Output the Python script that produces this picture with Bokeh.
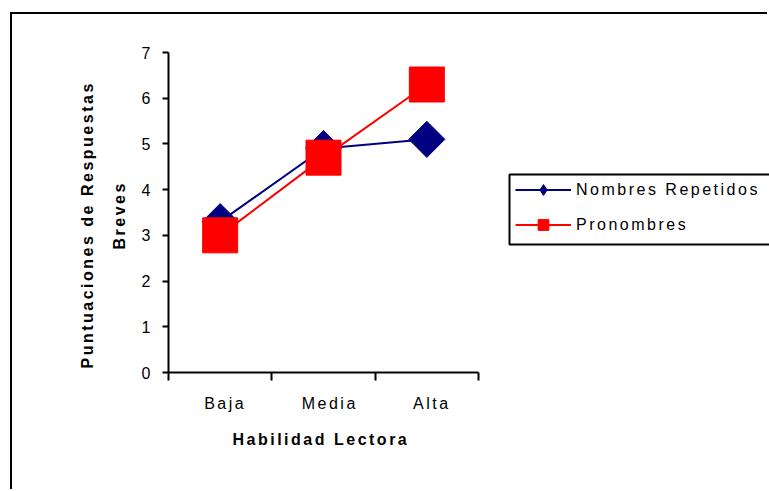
import math
from bokeh.plotting import figure
from bokeh.models import Range1d, FixedTicker, Legend, LegendItem, Title, BoxAnnotation
from bokeh.embed import file_html
from bokeh.resources import INLINE

# ---- data ----
categories = ["Baja", "Media", "Alta"]
nombres_repetidos = [3.3, 4.9, 5.1]
pronombres = [3.0, 4.7, 6.3]
y_ticks = [0, 1, 2, 3, 4, 5, 6, 7]
series_names = ["Nombres Repetidos", "Pronombres"]
x_title = "Habilidad Lectora"
y_title_lines = ["Puntuaciones de Respuestas", "Breves"]

FONT = "Liberation Sans"
FS = "16px"

W, H = 757, 477
LEFT, TOP, AXIS_W, AXIS_H = 156, 38, 310, 320
n = len(categories)
y_max = 7
x_pos = [i + 0.5 for i in range(n)]

# frame spans to the right edge; the x axis itself is bounded to the categories
x_end = n * (W - LEFT) / AXIS_W
px_x = n / AXIS_W        # data units per pixel (x)
px_y = y_max / AXIS_H    # data units per pixel (y)

p = figure(
    width=W, height=H, margin=(14, 0, 0, 12),
    x_range=Range1d(0, x_end), y_range=Range1d(0, y_max),
    output_backend="svg", toolbar_location=None,
    min_border_left=LEFT, min_border_right=0, min_border_top=TOP,
    min_border_bottom=H - TOP - AXIS_H,
    styles={"letter-spacing": "2.5px", "box-shadow": "-2px -2px 0 0 #000"},
)
p.outline_line_color = None
p.xgrid.visible = False
p.ygrid.visible = False
p.background_fill_color = "white"
p.border_fill_color = "white"

# axes
xa = p.xaxis[0]
xa.bounds = (0, n)
xa.ticker = FixedTicker(ticks=x_pos, minor_ticks=list(range(n + 1)))
xa.major_label_overrides = {x: c for x, c in zip(x_pos, categories)}
xa.major_tick_line_color = None
xa.major_tick_out = 0
xa.major_tick_in = 0
xa.minor_tick_line_color = "black"
xa.minor_tick_line_width = 2
xa.minor_tick_out = 8
xa.minor_tick_in = 0
xa.axis_line_width = 2
xa.axis_line_color = "black"
xa.major_label_standoff = 14
xa.major_label_text_font = FONT
xa.major_label_text_font_size = FS
xa.major_label_text_color = "black"

ya = p.yaxis[0]
ya.ticker = FixedTicker(ticks=y_ticks)
ya.minor_tick_line_color = None
ya.major_tick_line_width = 2
ya.major_tick_line_color = "black"
ya.major_tick_out = 6
ya.major_tick_in = 0
ya.axis_line_width = 2
ya.axis_line_color = "black"
ya.major_label_standoff = 12
ya.major_label_text_font = FONT
ya.major_label_text_font_size = FS
ya.major_label_text_color = "black"

# series
l1 = p.line(x_pos, nombres_repetidos, line_color="#000080", line_width=2)
s1 = p.scatter(x_pos, nombres_repetidos, marker="square", angle=math.pi / 4, size=25.5,
               fill_color="#000080", line_color="#000080")
k1 = p.scatter(x_pos, nombres_repetidos, marker="diamond", size=0,
               fill_color="#000080", line_color="#000080")
l2 = p.line(x_pos, pronombres, line_color="#FF0000", line_width=2)
s2 = p.scatter(x_pos, pronombres, marker="square", size=35,
               fill_color="#FF0000", line_color="#FF0000")

# legend (its box continues past the window's right edge)
BOX_X, BOX_Y = 341, 128          # legend box position (px from frame bottom-left)
LG_X, LG_Y = BOX_X + 6, BOX_Y + 6  # legend entries position
LG_PAD, LG_SP, LG_ROW = 4, 8, 27
legend = Legend(
    items=[LegendItem(label=series_names[0], renderers=[l1, k1]),
           LegendItem(label=series_names[1], renderers=[l2, s2])],
    location=(LG_X, LG_Y),
    border_line_color=None,
    background_fill_color="white", background_fill_alpha=1,
    padding=LG_PAD, spacing=LG_SP, margin=0,
    glyph_width=56, glyph_height=LG_ROW, label_height=LG_ROW, label_width=185,
    label_standoff=5,
    label_text_font=FONT, label_text_font_size=FS, label_text_color="black",
)
p.add_layout(legend, "center")
lg_h = 2 * LG_ROW + LG_SP + 2 * LG_PAD
p.add_layout(BoxAnnotation(left=BOX_X * px_x, right=x_end * 1.5,
                           bottom=BOX_Y * px_y, top=(BOX_Y + lg_h) * px_y,
                           fill_alpha=0, line_color="black", line_alpha=1, line_width=2,
                           level="overlay", editable=False))

# axis titles
p.add_layout(Title(text=x_title, align="left", offset=64, standoff=28,
                   text_font=FONT, text_font_size=FS, text_font_style="bold",
                   text_color="black"), "below")
p.add_layout(Title(text=y_title_lines[1], align="left", offset=123, standoff=22,
                   text_font=FONT, text_font_size=FS, text_font_style="bold",
                   text_color="black"), "left")
p.add_layout(Title(text=y_title_lines[0], align="left", offset=4, standoff=4,
                   text_font=FONT, text_font_size=FS, text_font_style="bold",
                   text_color="black"), "left")

open("out.html", "w").write(file_html(p, INLINE))
